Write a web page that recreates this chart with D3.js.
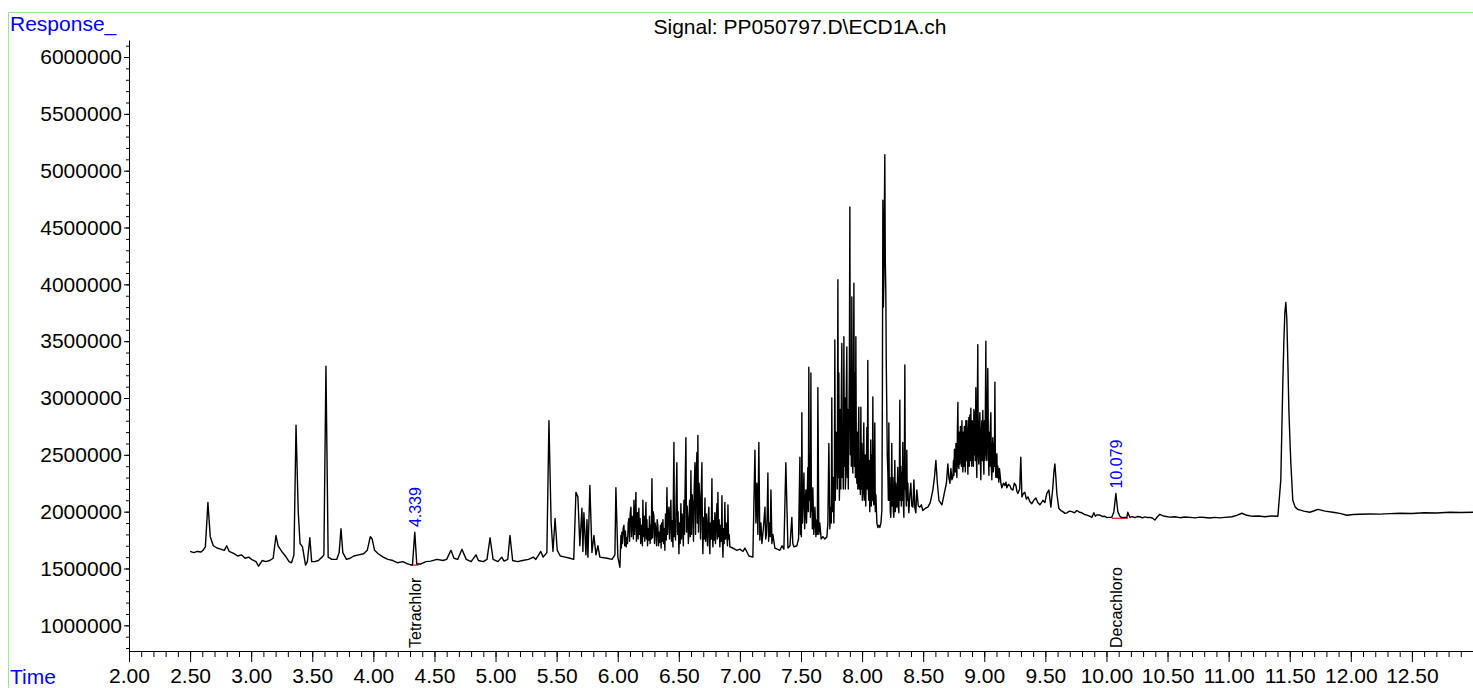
<!DOCTYPE html>
<html><head><meta charset="utf-8">
<script src="https://cdn.jsdelivr.net/npm/d3@7"></script>
<style>
body{margin:0;background:#fff}
svg{display:block}
text{font-family:"Liberation Sans",Arial,Helvetica,sans-serif}
</style>
</head><body>
<svg id="chart" width="1473" height="688"></svg>
<script>
// ---------------- DATA ----------------
const chartTitle = "Signal: PP050797.D\\ECD1A.ch";
const yAxisTitle = "Response_";
const xAxisTitle = "Time";
const xDomain = [2.0, 13.0];
const yDomain = [774000, 6150000];
const xTickValues = [2.00,2.50,3.00,3.50,4.00,4.50,5.00,5.50,6.00,6.50,7.00,7.50,8.00,8.50,9.00,9.50,10.00,10.50,11.00,11.50,12.00,12.50];
const yTickValues = [1000000,1500000,2000000,2500000,3000000,3500000,4000000,4500000,5000000,5500000,6000000];

// peak annotations
const peakTimes = [4.339, 10.079];
const peakLabels = ["4.339", "10.079"];
const peakTops = [1820000, 2160000];
const compoundNames = ["Tetrachlor", "Decachloro"];
const baseStart = [4.30, 10.044];
const baseEnd = [4.37, 10.175];
const baseLevel = [1530000, 1942000];

// chromatogram trace [time (min), response]
const traceEarly = [
[2.50,1650000],[2.53,1640000],[2.56,1650000],[2.59,1645000],[2.61,1665000],[2.625,1690000],[2.646,2080000],[2.665,1780000],
[2.69,1700000],[2.72,1680000],[2.75,1670000],[2.78,1660000],[2.80,1700000],[2.82,1650000],[2.86,1630000],[2.89,1610000],
[2.92,1620000],[2.95,1590000],[2.98,1600000],[3.01,1575000],[3.04,1560000],[3.06,1520000],[3.09,1570000],[3.12,1560000],
[3.15,1570000],[3.18,1590000],[3.203,1790000],[3.22,1700000],[3.25,1650000],[3.28,1610000],[3.31,1560000],[3.33,1550000],
[3.35,1620000],[3.367,2760000],[3.385,2000000],[3.40,1720000],[3.42,1690000],[3.445,1530000],[3.46,1560000],[3.48,1770000],
[3.495,1560000],[3.52,1560000],[3.55,1570000],[3.58,1600000],[3.595,1620000],[3.612,3280000],[3.63,1600000],[3.66,1580000],
[3.70,1580000],[3.72,1640000],[3.735,1850000],[3.75,1640000],[3.78,1580000],[3.81,1590000],[3.84,1610000],[3.88,1620000],
[3.92,1630000],[3.95,1660000],[3.975,1780000],[3.99,1760000],[4.01,1660000],[4.04,1630000],[4.08,1600000],[4.12,1580000],
[4.16,1570000],[4.20,1550000],[4.24,1560000],[4.28,1540000],[4.32,1530000],[4.339,1820000],[4.355,1540000],[4.39,1540000],
[4.43,1560000],[4.47,1565000],[4.52,1580000],[4.57,1570000],[4.60,1580000],[4.635,1660000],[4.66,1590000],[4.69,1580000],
[4.725,1670000],[4.76,1580000],[4.80,1560000],[4.84,1620000],[4.86,1570000],[4.90,1560000],[4.93,1580000],[4.955,1770000],
[4.98,1580000],[5.02,1560000],[5.05,1600000],[5.07,1565000],[5.10,1580000],[5.118,1790000],[5.14,1570000],[5.18,1560000],
[5.22,1570000],[5.27,1580000],[5.31,1600000],[5.33,1580000],[5.37,1650000],[5.39,1600000],[5.42,1640000],[5.437,2800000],
[5.455,1900000],[5.47,1650000],[5.487,1940000],[5.505,1660000],[5.53,1610000],[5.57,1600000],[5.61,1590000],[5.64,1580000]
];
const traceCluster1 = [
[5.658,2170000],[5.674,2130000],[5.690,1700000],[5.707,2030000],[5.715,1650000],[5.723,1990000],[5.740,1620000],[5.748,1930000],
[5.756,1600000],[5.772,2230000],[5.789,1640000],[5.805,1790000],[5.822,1620000],[5.838,1700000],[5.854,1600000],[5.912,1590000],
[5.953,1580000],[5.977,1620000],[5.985,2210000],[6.001,1600000],[6.018,1510000],
[6.026,1790000],[6.030,1680000],[6.034,1820000],[6.038,1720000],[6.044,1850000],[6.051,1880000],[6.057,1700000],[6.063,1830000],
[6.069,1690000],[6.075,1770000],[6.080,1720000],[6.086,1900000],[6.092,1940000],[6.097,1740000],[6.102,1980000],[6.108,2040000],
[6.113,1780000],[6.118,1960000],[6.124,1930000],[6.128,1760000],[6.133,2100000],[6.138,1800000],[6.143,1950000],[6.149,2170000],
[6.153,1740000],[6.157,1840000],[6.162,1990000],[6.167,1760000],[6.173,2030000],[6.178,1800000],[6.183,1940000],[6.188,1720000],
[6.193,1880000],[6.198,1780000],[6.202,1700000],[6.206,2100000],[6.211,1780000],[6.216,1960000],[6.221,1740000],[6.226,1900000],
[6.231,2080000],[6.235,1760000],[6.239,1930000],[6.244,1700000],[6.249,1850000],[6.255,1750000],[6.260,1960000],[6.265,1720000],
[6.270,1880000],[6.275,1760000],[6.280,2290000],[6.285,1770000],[6.290,2000000],[6.296,1960000],[6.301,1720000],[6.306,1900000],
[6.313,1840000],[6.318,1700000],[6.323,1930000],[6.329,1860000],[6.334,1700000],[6.339,1820000],[6.345,1730000],[6.350,1880000],
[6.355,1680000],[6.360,1900000],[6.365,1740000],[6.370,1930000],[6.375,1720000],[6.380,1850000],[6.386,1660000],[6.391,1980000],
[6.397,1750000],[6.403,2210000],[6.408,1800000],[6.413,1960000],[6.419,2040000],[6.424,1760000],[6.430,1950000],[6.435,2100000],
[6.440,1740000],[6.446,1920000],[6.452,1690000],[6.456,2200000],[6.460,2610000],[6.464,1780000],[6.468,1930000],[6.473,1750000],
[6.478,2100000],[6.484,2430000],[6.489,1800000],[6.494,2000000],[6.501,1630000],[6.506,1900000],[6.511,1720000],[6.517,2070000],
[6.522,1760000],[6.527,1980000],[6.533,1860000],[6.537,1700000],[6.542,2100000],[6.547,1800000],[6.552,2250000],[6.558,2650000],
[6.563,1820000],[6.568,2050000],[6.574,1930000],[6.578,1720000],[6.583,1840000],[6.588,2100000],[6.594,1780000],[6.599,2360000],
[6.604,1800000],[6.609,2150000],[6.615,2040000],[6.620,1740000],[6.626,2200000],[6.632,2430000],[6.637,1800000],[6.642,2300000],
[6.648,2520000],[6.652,1900000],[6.656,2670000],[6.661,1820000],[6.666,2250000],[6.673,2070000],[6.678,1760000],[6.683,2150000],
[6.689,2430000],[6.693,1850000],[6.697,1630000],[6.702,1950000],[6.708,1760000],[6.714,2120000],[6.719,1740000],[6.725,1980000],
[6.730,1810000],[6.735,1700000],[6.740,1950000],[6.746,2040000],[6.750,1720000],[6.754,1630000],[6.759,1900000],[6.765,1760000],
[6.771,2290000],[6.775,1800000],[6.779,1690000],[6.784,1920000],[6.790,1750000],[6.795,1990000],[6.800,1720000],[6.806,1900000],
[6.812,2070000],[6.816,1760000],[6.820,2170000],[6.825,1780000],[6.830,1930000],[6.836,1690000],[6.842,1880000],[6.848,1740000],
[6.853,2140000],[6.857,1750000],[6.861,1600000],[6.866,1850000],[6.871,1720000],[6.877,2080000],[6.882,1760000],[6.888,1900000],
[6.894,1770000],[6.898,1700000],[6.902,2060000],[6.907,1760000],[6.912,1800000],[6.918,1690000],[6.943,1680000],[6.975,1660000],
[7.000,1670000],[7.025,1650000],[7.041,1680000],[7.074,1610000],[7.106,1600000]
];
const traceCluster2 = [
[7.123,2540000],[7.131,1900000],[7.139,2250000],[7.147,1800000],[7.155,2610000],[7.163,1750000],[7.172,1900000],[7.180,1720000],
[7.192,1850000],[7.205,2040000],[7.211,1760000],[7.217,1800000],[7.223,1950000],[7.229,2340000],[7.235,1740000],[7.241,1900000],
[7.248,1780000],[7.254,2190000],[7.262,1720000],[7.270,1800000],[7.286,1680000],[7.305,1670000],[7.327,1660000],[7.345,1700000],
[7.360,1670000],[7.376,2430000],[7.393,1680000],[7.410,1700000],[7.425,1950000],[7.433,1720000],[7.442,1690000],[7.466,1700000],
[7.480,1760000],[7.491,2480000],[7.495,1800000],[7.499,1900000],[7.503,1780000],[7.507,2870000],[7.512,1900000],[7.518,2100000],
[7.524,2340000],[7.530,1850000],[7.535,2050000],[7.540,2190000],[7.545,1900000],[7.550,2100000],[7.556,2390000],[7.560,2000000],
[7.564,3270000],[7.568,2100000],[7.573,2500000],[7.577,1950000],[7.581,3220000],[7.585,2000000],[7.589,2190000],[7.593,1850000],
[7.597,2210000],[7.605,1800000],[7.614,2040000],[7.622,1780000],[7.630,1930000],[7.634,1800000],[7.638,3090000],[7.646,1800000],
[7.654,1900000],[7.665,1760000],[7.679,1780000],[7.695,1760000],[7.712,1780000],[7.720,1900000],[7.728,2600000],[7.736,1850000],
[7.744,2040000],[7.748,1900000],[7.752,3000000],[7.757,2000000],[7.763,2300000],[7.769,1900000],[7.773,2200000],[7.777,3510000],
[7.781,2100000],[7.787,2700000],[7.793,2510000],[7.797,2200000],[7.802,4040000],[7.806,2300000],[7.810,3220000],[7.814,2100000],
[7.818,2340000],[7.822,2900000],[7.826,2200000],[7.830,3000000],[7.834,3480000],[7.838,2300000],[7.842,2690000],[7.846,2200000],
[7.851,3540000],[7.855,2400000],[7.859,3000000],[7.863,2200000],[7.867,2340000],[7.871,3100000],[7.875,3450000],[7.879,2300000],
[7.883,2900000],[7.887,2200000],[7.891,2630000],[7.896,3300000],[7.900,4680000],[7.904,2500000],[7.908,3220000],[7.912,2400000],
[7.916,3890000],[7.920,2600000],[7.924,2340000],[7.929,3100000],[7.933,4010000],[7.937,2400000],[7.941,3220000],[7.945,2300000],
[7.949,3540000],[7.953,2500000],[7.957,2250000],[7.961,2700000],[7.965,2200000],[7.969,2600000],[7.973,2920000],[7.977,2200000],
[7.982,2450000],[7.986,2150000],[7.990,2920000],[7.994,2200000],[7.998,2600000],[8.002,2100000],[8.006,2160000],[8.010,2500000],
[8.014,2780000],[8.018,2100000],[8.022,2190000],[8.026,2500000],[8.030,2050000],[8.035,2400000],[8.039,2740000],[8.043,2200000],
[8.047,3330000],[8.051,2200000],[8.055,2100000],[8.059,2450000],[8.063,2000000],[8.067,2300000],[8.071,2630000],[8.075,2050000],
[8.080,2500000],[8.084,2100000],[8.088,3010000],[8.092,2100000],[8.096,2060000],[8.100,2400000],[8.104,2780000],[8.108,2000000],
[8.113,2150000],[8.121,1900000],[8.129,1860000],[8.137,1880000],[8.145,1860000],[8.154,1900000],[8.162,2010000],[8.166,3000000],
[8.170,4740000],[8.174,3800000],[8.178,4010000],[8.182,4600000],[8.186,5140000],[8.190,4200000],[8.194,3950000],[8.198,3300000],
[8.202,2920000],[8.206,2500000],[8.211,2340000],[8.215,2100000],[8.219,2780000],[8.223,2100000],[8.227,2300000],[8.231,2000000],
[8.235,1950000],[8.239,2200000],[8.243,2600000],[8.247,2050000],[8.252,2300000],[8.256,2000000],[8.260,1950000],[8.264,2200000],
[8.268,2450000],[8.272,2000000],[8.276,2250000],[8.280,2100000],[8.284,2040000],[8.288,2200000],[8.292,2390000],[8.296,2050000],
[8.301,1990000],[8.305,2300000],[8.309,2980000],[8.313,2100000],[8.317,2400000],[8.321,2050000],[8.325,2340000],[8.329,2100000],
[8.333,2610000],[8.337,2100000],[8.342,1950000],[8.346,2400000],[8.350,3290000],[8.354,2200000],[8.358,2190000],[8.362,2050000],
[8.366,2540000],[8.370,2100000],[8.375,2250000],[8.379,2050000],[8.383,1990000],[8.391,2150000],[8.399,2250000],[8.407,2050000],
[8.416,2040000],[8.420,2150000],[8.424,2280000],[8.432,2030000],[8.440,1990000],[8.444,2100000],[8.448,2190000],[8.460,2050000],
[8.473,2040000],[8.485,2060000],[8.497,2010000],[8.518,2030000],[8.538,2040000],[8.558,2080000],[8.579,2190000],[8.592,2300000],
[8.604,2450000],[8.616,2250000],[8.629,2100000],[8.641,2080000],[8.653,2060000],[8.665,2120000],[8.678,2190000],[8.690,2250000],
[8.702,2420000],[8.710,2300000],[8.719,2250000],[8.727,2380000],[8.735,2280000],[8.743,2300000],[8.748,2450000],[8.752,2320000],
[8.756,2550000],[8.760,2510000],[8.764,2350000],[8.768,2600000],[8.772,2380000],[8.776,2300000],[8.780,2700000],[8.784,2960000],
[8.788,2400000],[8.792,2380000],[8.796,2700000],[8.800,2420000],[8.805,2750000],[8.809,2650000],[8.813,2400000],[8.817,2800000],
[8.821,2450000],[8.825,2350000],[8.829,2700000],[8.833,2400000],[8.837,2750000],[8.841,2600000],[8.845,2350000],[8.849,2800000],
[8.854,2450000],[8.858,2800000],[8.862,2500000],[8.866,2330000],[8.870,2700000],[8.874,2830000],[8.878,2400000],[8.882,2850000],
[8.886,2450000],[8.890,2910000],[8.894,2500000],[8.898,2400000],[8.902,2800000],[8.907,2720000],[8.911,2400000],[8.915,2900000],
[8.919,2500000],[8.923,2880000],[8.927,2450000],[8.931,3090000],[8.935,2500000],[8.939,2300000],[8.943,2900000],[8.947,3470000],
[8.951,2500000],[8.955,2420000],[8.960,2750000],[8.964,2870000],[8.968,2450000],[8.972,2280000],[8.976,2700000],[8.980,2800000],
[8.984,2450000],[8.988,2890000],[8.992,2500000],[8.997,2330000],[9.001,2800000],[9.005,2450000],[9.009,2900000],[9.013,3500000],
[9.017,2500000],[9.021,2450000],[9.025,2900000],[9.029,3260000],[9.034,2500000],[9.038,2320000],[9.042,2700000],[9.046,2400000],
[9.050,2750000],[9.054,2870000],[9.058,2400000],[9.062,2280000],[9.066,2550000],[9.070,2650000],[9.074,2350000],[9.078,2600000],
[9.083,2400000],[9.087,3140000],[9.091,2400000],[9.095,2300000],[9.099,2450000],[9.103,2510000],[9.107,2300000],[9.111,2400000],
[9.119,2260000],[9.124,2380000],[9.128,2340000],[9.136,2250000],[9.144,2210000],[9.157,2250000],[9.169,2230000],[9.177,2260000],
[9.185,2210000],[9.197,2240000],[9.209,2230000],[9.221,2200000],[9.234,2190000],[9.246,2250000],[9.259,2230000],[9.267,2180000],
[9.275,2160000],[9.290,2200000],[9.299,2480000],[9.308,2130000],[9.320,2160000],[9.332,2170000],[9.345,2110000],[9.357,2130000],
[9.373,2090000],[9.389,2070000],[9.405,2100000],[9.422,2120000],[9.438,2080000],[9.455,2060000],[9.468,2080000],[9.480,2100000],
[9.496,2080000],[9.512,2160000],[9.529,2190000],[9.545,2040000],[9.561,2210000],[9.570,2350000],[9.578,2420000],[9.586,2300000],
[9.594,2160000],[9.610,2030000],[9.627,2010000],[9.643,2000000],[9.660,1985000],[9.676,1990000],[9.697,2005000],[9.717,2000000],
[9.738,1990000],[9.758,2010000],[9.779,1995000],[9.799,1990000],[9.820,1975000],[9.840,1970000],[9.861,1960000],[9.881,1950000],
[9.897,1990000],[9.909,1960000],[9.921,1970000]
];
const traceLate = [
[9.946,1970000],[9.966,1958000],[9.987,1960000],[10.003,1948000],[10.020,1950000],[10.044,1950000],[10.061,2000000],[10.077,2160000],
[10.093,2000000],[10.110,1960000],[10.126,1948000],[10.142,1950000],[10.167,1950000],[10.175,1995000],[10.191,1950000],[10.212,1956000],
[10.232,1948000],[10.253,1957000],[10.273,1955000],[10.294,1946000],[10.314,1954000],[10.335,1948000],[10.355,1950000],[10.376,1944000],
[10.396,1926000],[10.417,1955000],[10.437,1977000],[10.458,1965000],[10.478,1960000],[10.519,1952000],[10.560,1955000],[10.601,1947000],
[10.642,1953000],[10.683,1950000],[10.724,1945000],[10.764,1952000],[10.805,1948000],[10.846,1944000],[10.887,1950000],[10.928,1945000],
[10.969,1950000],[11.026,1955000],[11.067,1968000],[11.108,1986000],[11.149,1968000],[11.198,1959000],[11.247,1962000],[11.296,1955000],
[11.350,1962000],[11.403,1960000],[11.427,2280000],[11.435,2700000],[11.444,3160000],[11.452,3500000],[11.460,3750000],[11.468,3840000],
[11.476,3700000],[11.485,3300000],[11.493,2900000],[11.501,2650000],[11.509,2430000],[11.525,2100000],[11.545,2040000],[11.566,2020000],
[11.615,2005000],[11.664,1995000],[11.700,2008000],[11.730,2020000],[11.790,2005000],[11.853,1995000],[11.910,1985000],[11.967,1968000],
[12.020,1975000],[12.074,1977000],[12.150,1980000],[12.240,1978000],[12.320,1983000],[12.401,1986000],[12.500,1984000],[12.600,1990000],
[12.700,1988000],[12.810,1995000],[12.900,1992000],[13.000,1995000]
];
const trace = traceEarly.concat(traceCluster1, traceCluster2, traceLate);

// ---------------- DRAW ----------------
const svg = d3.select("#chart");
const plotLeft = 129, plotRight = 1473, plotTop = 40, plotBottom = 651;
const x = d3.scaleLinear().domain(xDomain).range([plotLeft, plotRight]);
const y = d3.scaleLinear().domain(yDomain).range([plotBottom, plotTop]);

// green frame
const frame = "#94ea94";
svg.append("line").attr("x1",8.5).attr("x2",1473).attr("y1",12.5).attr("y2",12.5).attr("stroke",frame).attr("stroke-width",1);
svg.append("line").attr("x1",8.5).attr("x2",8.5).attr("y1",12.5).attr("y2",688).attr("stroke",frame).attr("stroke-width",1);

// titles
svg.append("text").attr("x",800).attr("y",34).attr("text-anchor","middle").attr("font-size",21).attr("fill","#000").text(chartTitle);
svg.append("text").attr("x",10).attr("y",31).attr("font-size",21).attr("fill","#0000ff").text(yAxisTitle);
svg.append("text").attr("x",10).attr("y",684).attr("font-size",21).attr("fill","#0000ff").text(xAxisTitle);

// minor ticks
const xMinor = d3.range(20, 131).map(d => d / 10);
const yMinor = d3.range(8, 62).map(d => d * 100000);
svg.append("g").attr("transform",`translate(0,${plotBottom})`)
  .call(d3.axisBottom(x).tickValues(xMinor).tickSize(6).tickSizeOuter(0).tickFormat(""))
  .call(g => g.select(".domain").remove());
svg.append("g").attr("transform",`translate(${plotLeft},0)`)
  .call(d3.axisLeft(y).tickValues(yMinor).tickSize(3).tickSizeOuter(0).tickFormat(""))
  .call(g => g.select(".domain").remove());

// major axes
const gx = svg.append("g").attr("transform",`translate(0,${plotBottom})`)
  .call(d3.axisBottom(x).tickValues(xTickValues).tickSize(11).tickSizeOuter(0).tickPadding(6).tickFormat(d3.format(".2f")));
const gy = svg.append("g").attr("transform",`translate(${plotLeft},0)`)
  .call(d3.axisLeft(y).tickValues(yTickValues).tickSize(5).tickSizeOuter(0).tickPadding(2).tickFormat(d => String(d)));
[gx, gy].forEach(g => {
  g.selectAll("text").attr("font-size",21).attr("fill","#000").attr("font-family",'"Liberation Sans",Arial,sans-serif');
  g.selectAll("line,path").attr("stroke","#000");
});

// baseline segments (red)
peakTimes.forEach((t, i) => {
  svg.append("line").attr("x1",x(baseStart[i])).attr("x2",x(baseEnd[i]))
    .attr("y1",y(baseLevel[i])).attr("y2",y(baseLevel[i]))
    .attr("stroke","#ff0000").attr("stroke-width",1.2);
});

// trace
const line = d3.line().x(d => x(d[0])).y(d => y(d[1]));
svg.append("path").datum(trace).attr("d",line)
  .attr("fill","none").attr("stroke","#000").attr("stroke-width",1.4).attr("stroke-linejoin","round");

// annotations
peakTimes.forEach((t, i) => {
  const px = x(t);
  svg.append("text").attr("transform",`translate(${px+6},${y(peakTops[i])-5}) rotate(-90)`)
    .attr("font-size",16).attr("fill","#0000ff").text(peakLabels[i]);
  svg.append("text").attr("transform",`translate(${px+6},${plotBottom-3}) rotate(-90)`)
    .attr("font-size",16).attr("fill","#000").text(compoundNames[i]);
});
</script>
</body></html>
